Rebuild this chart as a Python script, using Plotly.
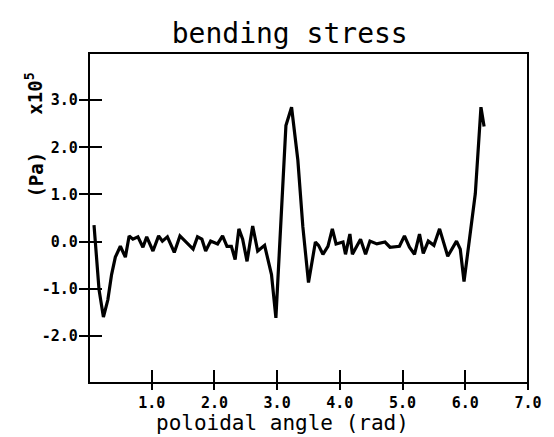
import plotly.graph_objects as go

# Bending stress along the poloidal angle (units of 1e5 Pa)
angle = [0.08, 0.16, 0.23, 0.30, 0.36, 0.42, 0.50, 0.58, 0.64, 0.70,
         0.78, 0.86, 0.92, 1.02, 1.11, 1.17, 1.25, 1.36, 1.45, 1.53,
         1.66, 1.73, 1.80, 1.86, 1.94, 2.05, 2.13, 2.20, 2.27, 2.33,
         2.39, 2.45, 2.52, 2.61, 2.69, 2.80, 2.91, 2.98, 3.06, 3.14,
         3.23, 3.33, 3.41, 3.50, 3.61, 3.66, 3.73, 3.81, 3.88, 3.94,
         4.05, 4.09, 4.16, 4.20, 4.33, 4.41, 4.48, 4.59, 4.72, 4.80,
         4.95, 5.03, 5.11, 5.19, 5.27, 5.33, 5.41, 5.50, 5.59, 5.72,
         5.86, 5.92, 5.98, 6.06, 6.16, 6.25, 6.30]
stress = [0.35, -1.02, -1.60, -1.24, -0.70, -0.33, -0.10, -0.33, 0.12, 0.05,
          0.10, -0.12, 0.10, -0.20, 0.12, 0.01, 0.10, -0.23, 0.12, 0.01,
          -0.16, 0.10, 0.05, -0.20, 0.01, -0.05, 0.12, -0.10, -0.10, -0.38,
          0.27, 0.05, -0.42, 0.33, -0.20, -0.08, -0.70, -1.62, 0.31, 2.46,
          2.85, 1.73, 0.31, -0.87, -0.01, -0.08, -0.27, -0.10, 0.27, -0.05,
          -0.01, -0.27, 0.16, -0.27, 0.05, -0.27, 0.01, -0.05, -0.01, -0.12,
          -0.10, 0.12, -0.12, -0.27, 0.16, -0.25, 0.01, -0.08, 0.27, -0.31,
          0.01, -0.16, -0.85, -0.05, 1.02, 2.85, 2.44]

x_ticks = [1, 2, 3, 4, 5, 6, 7]
x_tick_text = ["1.0", "2.0", "3.0", "4.0", "5.0", "6.0", "7.0"]
y_ticks = [-2, -1, 0, 1, 2, 3]
y_tick_text = ["-2.0", "-1.0", "0.0", "1.0", "2.0", "3.0"]

x_range = [0, 7]
y_range = [-3, 4]

W, H = 554, 437
ML, MR, MT, MB = 89, 21, 53, 54
PW, PH = W - ML - MR, H - MT - MB

mono = "DejaVu Sans Mono"
tick_font = dict(family=mono, size=15, color="black", weight="bold")

fig = go.Figure()
fig.add_trace(go.Scatter(
    x=angle, y=stress, mode="lines",
    line=dict(color="black", width=3.2),
    showlegend=False, hoverinfo="skip",
))

# Tick marks straddle the frame: each axis sits a little inside the box
# and its outward ticks reach across the frame line.
y_tick_in, y_tick_out = 13, 10
x_tick_in, x_tick_out = 14, 6

fig.update_layout(
    width=W, height=H,
    margin=dict(l=ML, r=MR, t=MT, b=MB),
    paper_bgcolor="white", plot_bgcolor="white",
    title=dict(text="bending stress", x=0.523, xref="container", xanchor="center",
               y=1 - 33 / H, yref="container", yanchor="middle",
               font=dict(family=mono, size=28, color="black")),
    xaxis=dict(range=x_range, tickmode="array", tickvals=x_ticks, ticktext=x_tick_text,
               anchor="free", position=x_tick_in / PH,
               ticks="outside", ticklen=x_tick_in + x_tick_out, tickwidth=2, tickcolor="black",
               showline=False, showgrid=False, zeroline=False, tickfont=tick_font),
    yaxis=dict(range=y_range, tickmode="array", tickvals=y_ticks, ticktext=y_tick_text,
               anchor="free", position=y_tick_in / PW, ticklabelstandoff=-2,
               ticks="outside", ticklen=y_tick_in + y_tick_out, tickwidth=2, tickcolor="black",
               showline=False, showgrid=False, zeroline=False, tickfont=tick_font),
    shapes=[dict(type="rect", xref="x domain", yref="y domain", x0=0, x1=1, y0=0, y1=1,
                 line=dict(color="black", width=2), layer="above")],
    annotations=[
        dict(text="poloidal angle (rad)", xref="paper", yref="paper",
             x=(285 - ML) / PW, y=-(423 - (MT + PH)) / PH, xanchor="center", yanchor="middle",
             showarrow=False, font=dict(family=mono, size=21, color="black")),
        dict(text="(Pa)", xref="paper", yref="paper", textangle=-90,
             x=-(ML - 35) / PW, y=(MT + PH - 175) / PH, xanchor="center", yanchor="middle",
             showarrow=False, font=dict(family=mono, size=19, color="black", weight="bold")),
        dict(text="x10<sup>5</sup>", xref="paper", yref="paper", textangle=-90,
             x=-(ML - 33) / PW, y=(MT + PH - 94) / PH, xanchor="center", yanchor="middle",
             showarrow=False, font=dict(family=mono, size=19, color="black", weight="bold")),
    ],
)

fig.write_html("out.html")
